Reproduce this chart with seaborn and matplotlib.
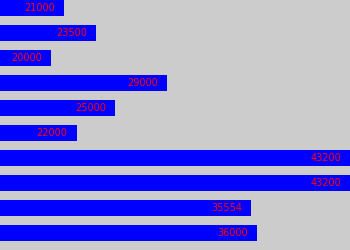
import matplotlib
matplotlib.use("Agg")
import matplotlib.pyplot as plt
import seaborn as sns
import pandas as pd

categories = ["A", "B", "C", "D", "E", "F", "G", "H", "I", "J"]
values = [21000, 23500, 20000, 29000, 25000, 22000, 43200, 43200, 35554, 36000]
labels = ["21000", "23500", "20000", "29000", "25000", "22000", "43200", "43200", "35554", "36000"]

df = pd.DataFrame({"cat": categories, "val": values})

fig = plt.figure(figsize=(3.5, 2.5), dpi=100)
fig.patch.set_facecolor("#cccccc")
ax = fig.add_axes([0, 0, 1, 1])
ax.set_facecolor("#cccccc")

sns.barplot(data=df, x="val", y="cat", orient="h", color="#0000ff",
            saturation=1, width=0.64, ax=ax, order=categories)

for i, (v, t) in enumerate(zip(values, labels)):
    ax.annotate(t, xy=(v, i), xytext=(-9, 0), textcoords="offset pixels",
                ha="right", va="center", color="#ff0000", fontsize=7,
                family="DejaVu Sans")

ax.set_xlim(16070, 43200)
ax.set_ylim(9.68, -0.32)
ax.set_axis_off()

fig.savefig("out.png", dpi=100, facecolor="#cccccc")
